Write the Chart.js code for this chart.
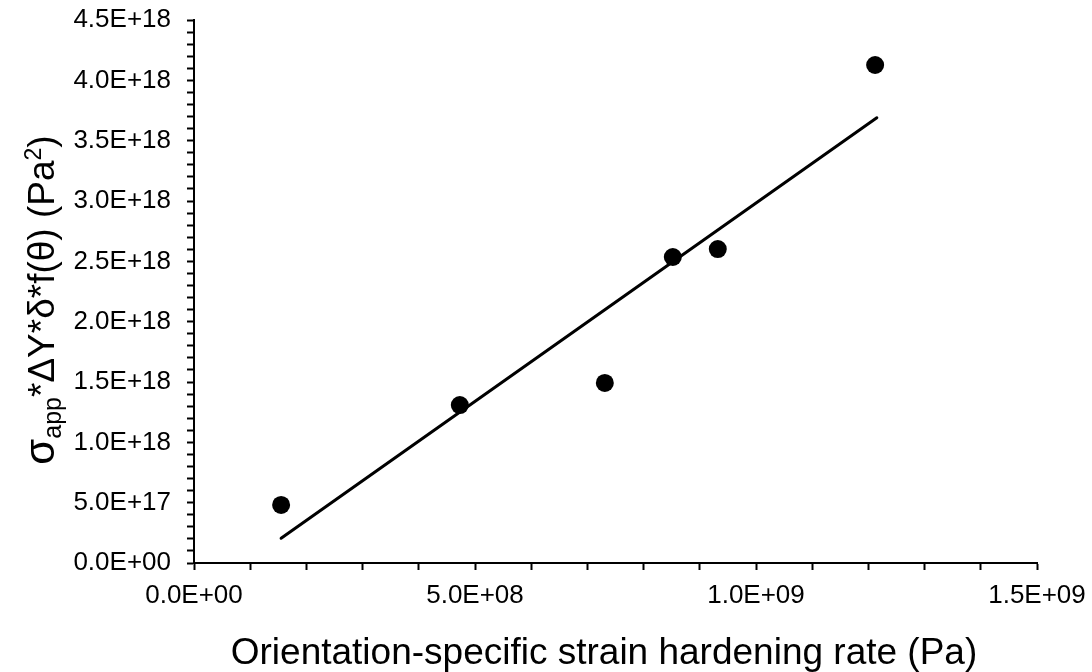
<!DOCTYPE html>
<html>
<head>
<meta charset="utf-8">
<script src="https://cdn.jsdelivr.net/npm/chart.js@4.4.1/dist/chart.umd.min.js"></script>
<style>
  html, body { margin: 0; padding: 0; background: #ffffff; }
  #wrap { width: 1092px; height: 672px; position: relative; }
</style>
</head>
<body>
<div id="wrap"><canvas id="c" width="1092" height="672"></canvas></div>
<script>
// ---- Data ----
const xValues = [1.55e8, 4.73e8, 7.31e8, 8.52e8, 9.32e8, 1.212e9];
const yValues = [4.81e17, 1.309e18, 1.492e18, 2.536e18, 2.602e18, 4.127e18];
const trendX = [1.55e8, 1.215e9];
const trendY = [2.05e17, 3.69e18];

const xTickLabels = ['0.0E+00', '5.0E+08', '1.0E+09', '1.5E+09'];
const yTickLabels = ['0.0E+00', '5.0E+17', '1.0E+18', '1.5E+18', '2.0E+18',
                     '2.5E+18', '3.0E+18', '3.5E+18', '4.0E+18', '4.5E+18'];

const xTitle = 'Orientation-specific strain hardening rate (Pa)';
// y title pieces: [text, kind] kind: 'g' greek sigma, 'n' normal, 'sub', 'sup'
const yTitleParts = [['σ', 'g'], ['app', 'sub'], ['*ΔY*δ*f(θ) (Pa', 'n'], ['2', 'sup'], [')', 'n']];

const FONT = '"Liberation Sans", Arial, Helvetica, sans-serif';

const xMajor = 5e8, yMajor = 5e17;
function majorLabel(value, step, labels) {
  const r = value / step;
  const k = Math.round(r);
  if (Math.abs(r - k) < 1e-6 && labels[k] !== undefined) return labels[k];
  return '';
}

const titlePlugin = {
  id: 'titles',
  afterDraw(chart) {
    const ctx = chart.ctx;
    ctx.save();
    ctx.fillStyle = '#000';
    // X title
    ctx.font = '37px ' + FONT;
    ctx.textAlign = 'center';
    ctx.textBaseline = 'alphabetic';
    ctx.fillText(xTitle, 604, 664);
    // Y title (rotated, with sub/superscript)
    const sizes = { g: 42, n: 37, sub: 25, sup: 23 };
    const offs = { g: 0, n: 0, sub: 7, sup: -13 };
    let total = 0;
    const widths = yTitleParts.map(([t, k]) => {
      ctx.font = sizes[k] + 'px ' + FONT;
      const w = ctx.measureText(t).width;
      total += w;
      return w;
    });
    ctx.translate(54, 300);
    ctx.rotate(-Math.PI / 2);
    ctx.textAlign = 'left';
    let x = -total / 2;
    yTitleParts.forEach(([t, k], i) => {
      ctx.font = sizes[k] + 'px ' + FONT;
      ctx.fillText(t, x, offs[k]);
      x += widths[i];
    });
    ctx.restore();
  }
};

new Chart(document.getElementById('c'), {
  type: 'scatter',
  data: {
    datasets: [
      {
        label: 'Data',
        data: xValues.map((x, i) => ({ x: x, y: yValues[i] })),
        backgroundColor: '#000',
        borderColor: '#000',
        pointRadius: 9,
        pointHoverRadius: 9,
        borderWidth: 0,
        order: 1
      },
      {
        label: 'Trend',
        data: trendX.map((x, i) => ({ x: x, y: trendY[i] })),
        showLine: true,
        borderColor: '#000',
        backgroundColor: '#000',
        borderWidth: 3,
        pointRadius: 0,
        pointHoverRadius: 0,
        borderCapStyle: 'round',
        order: 2
      }
    ]
  },
  options: {
    responsive: false,
    animation: false,
    devicePixelRatio: 1,
    layout: { padding: { left: 0, top: 20, right: 55, bottom: 0 } },
    plugins: { legend: { display: false }, tooltip: { enabled: false } },
    scales: {
      x: {
        type: 'linear',
        min: 0,
        max: 1.5e9,
        afterFit(scale) {
          scale.height = 109;
          scale.paddingLeft = 0;
          scale.paddingRight = 0;
        },
        afterBuildTicks(scale) {
          const t = [];
          for (let i = 0; i <= 15; i++) t.push({ value: i * 1e8 });
          scale.ticks = t;
        },
        border: { display: true, color: '#000', width: 2 },
        grid: { display: true, drawOnChartArea: false, drawTicks: true, tickLength: 7, color: '#000', tickColor: '#000', tickWidth: 2 },
        ticks: {
          autoSkip: false,
          maxRotation: 0,
          padding: 10,
          color: '#000',
          font: { family: FONT, size: 26 },
          callback: (v) => majorLabel(v, xMajor, xTickLabels)
        },
        title: { display: false }
      },
      y: {
        type: 'linear',
        min: 0,
        max: 4.5e18,
        afterFit(scale) {
          scale.width = 194;
          scale.paddingTop = 0;
          scale.paddingBottom = 0;
        },
        afterBuildTicks(scale) {
          const t = [];
          for (let i = 0; i <= 45; i++) t.push({ value: i * 1e17 });
          scale.ticks = t;
        },
        border: { display: true, color: '#000', width: 2 },
        grid: { display: true, drawOnChartArea: false, drawTicks: true, tickLength: 7, color: '#000', tickColor: '#000', tickWidth: 2 },
        ticks: {
          autoSkip: false,
          padding: 16,
          color: '#000',
          font: { family: FONT, size: 26 },
          callback: (v) => majorLabel(v, yMajor, yTickLabels)
        },
        title: { display: false }
      }
    }
  },
  plugins: [titlePlugin]
});
</script>
</body>
</html>
